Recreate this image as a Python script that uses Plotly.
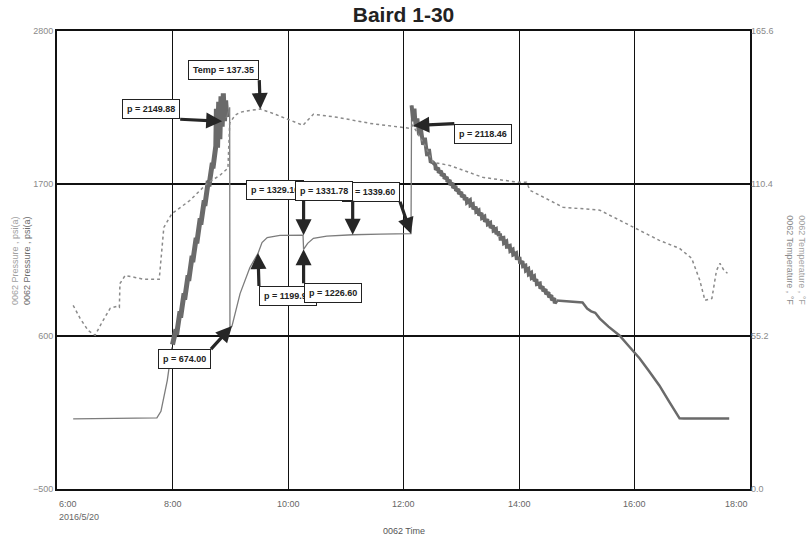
import plotly.graph_objects as go

# ---------------- data (hours of day, psi(a), degF) ----------------
pre_h = [6.28, 7.10, 7.73, 7.80, 7.91, 7.99]
pre_p = [5, 8, 12, 60, 283, 521]

pump_h = [8.00, 8.06, 8.07, 8.13, 8.14, 8.20, 8.21, 8.27, 8.28, 8.34, 8.35, 8.41, 8.42,
          8.48, 8.49, 8.55, 8.56, 8.62, 8.63, 8.69, 8.70, 8.75, 8.76, 8.78, 8.80, 8.82,
          8.84, 8.86, 8.88, 8.90, 8.92, 8.94]
pump_p = [540, 650, 610, 780, 735, 910, 865, 1040, 1000, 1180, 1135, 1310, 1270,
          1450, 1405, 1580, 1540, 1720, 1680, 1850, 1810, 1970, 2240, 1960, 2290, 2020,
          2330, 2110, 2350, 2150, 2300, 2180]

soak_h = [8.94, 8.99, 8.995, 9.03, 9.17, 9.34, 9.48, 9.55, 9.64, 9.86, 10.26, 10.27,
          10.34, 10.44, 10.67, 11.12, 11.60, 12.13, 12.14]
soak_p = [2180, 2250, 660, 674, 908, 1096, 1197, 1276, 1312, 1327, 1329, 1226,
          1270, 1306, 1322, 1332, 1336, 1340, 2264]

fall_h = [12.14, 12.17, 12.19, 12.21, 12.24, 12.27, 12.30, 12.34, 12.37, 12.41, 12.44,
          12.47, 12.51, 12.55, 12.56, 12.60, 12.61, 12.65, 12.66, 12.70, 12.71, 12.75,
          12.76, 12.80, 12.81, 12.85, 12.86, 12.90, 12.91, 12.95, 12.96, 13.00, 13.01,
          13.05, 13.06, 13.09, 13.10, 13.15, 13.16, 13.20, 13.21, 13.25, 13.26, 13.30,
          13.31, 13.35, 13.36, 13.40, 13.41, 13.45, 13.46, 13.50, 13.51, 13.55, 13.56,
          13.60, 13.61, 13.64, 13.65, 13.67, 13.68, 13.73, 13.74, 13.78, 13.79, 13.84,
          13.85, 13.89, 13.90, 13.95, 13.96, 14.01, 14.02, 14.06, 14.07, 14.11, 14.12,
          14.16, 14.17, 14.21, 14.22, 14.26, 14.27, 14.30, 14.31, 14.36, 14.37, 14.41,
          14.42, 14.46, 14.47, 14.51, 14.52, 14.56, 14.57, 14.61, 14.62, 14.65]
fall_p = [2264, 2150, 2240, 2110, 2170, 2050, 2100, 1980, 2030, 1900, 1950,
          1860, 1853, 1836, 1800, 1814, 1778, 1793, 1757, 1771, 1735, 1749,
          1713, 1727, 1691, 1705, 1669, 1684, 1648, 1662, 1626, 1640, 1604,
          1618, 1582, 1601, 1565, 1580, 1544, 1552, 1516, 1534, 1498, 1507,
          1471, 1489, 1453, 1462, 1426, 1444, 1408, 1417, 1381, 1399, 1363,
          1372, 1336, 1358, 1322, 1341, 1305, 1309, 1273, 1283, 1247, 1252,
          1216, 1225, 1189, 1199, 1163, 1161, 1125, 1141, 1105, 1110, 1074,
          1084, 1048, 1058, 1022, 1032, 996, 1012, 976, 981, 945, 960,
          924, 939, 903, 918, 882, 896, 860, 875, 839, 858]

tail_h = [14.65, 14.80, 14.95, 15.10, 15.18, 15.25, 15.32, 15.40, 15.55, 15.74, 15.90,
          16.09, 16.25, 16.43, 16.60, 16.78, 16.85, 17.64]
tail_p = [858, 852, 848, 844, 800, 780, 770, 728, 670, 606, 530,
          440, 350, 246, 130, 9, 8, 8]

temp_h = [6.28, 6.40, 6.54, 6.66, 6.78, 6.92, 7.04, 7.08, 7.09, 7.18, 7.35, 7.51, 7.77,
          7.82, 7.85, 7.99, 8.13, 8.30, 8.60, 8.82, 8.96, 8.99, 9.08, 9.17, 9.34, 9.52,
          9.69, 9.95, 10.26, 10.34, 10.44, 10.85, 11.42, 12.11, 12.16, 12.37, 12.51,
          12.80, 13.37, 13.98, 14.13, 14.19, 14.53, 14.76, 15.40, 15.74, 16.09, 16.43,
          16.78, 16.99, 17.13, 17.22, 17.34, 17.42, 17.48, 17.55, 17.61]
temp_f = [66.4, 61.7, 57.3, 55.6, 60.3, 65.3, 66.1, 65.7, 74.3, 77.2, 76.5, 75.8, 75.8,
          86.3, 94.6, 99.6, 101.8, 104.3, 110.5, 113.4, 116.0, 132.2, 135.1, 136.2, 136.9, 137.35,
          136.2, 134.0, 131.5, 133.3, 135.5, 134.4, 132.2, 130.4, 131.5, 124.3, 118.1,
          117.0, 112.7, 110.9, 110.9, 108.0, 104.4, 101.9, 100.8, 97.1, 93.5, 89.9,
          87.0, 83.4, 75.5, 68.2, 68.9, 79.0, 81.6, 79.0, 78.0]

# readings (label, hour, value, axis)
note_text = ["p = 2149.88", "Temp = 137.35", "p = 2118.46", "p = 1329.10", "p = 1339.60",
             "p = 1331.78", "p = 1199.90", "p = 1226.60", "p = 674.00"]
note_h = [8.86, 9.52, 12.17, 10.27, 12.13, 11.12, 9.48, 10.27, 9.03]
note_val = [2149.88, 137.35, 2118.46, 1329.10, 1339.60, 1331.78, 1199.90, 1226.60, 674.00]
note_axis = ["y", "y2", "y", "y", "y", "y", "y", "y", "y"]

x_tick_hours = [6, 8, 10, 12, 14, 16, 18]
x_tick_text = ["6:00", "8:00", "10:00", "12:00", "14:00", "16:00", "18:00"]
p_ticks = [-500, 600, 1700, 2800]
t_ticks = [0.0, 55.2, 110.4, 165.6]
t_tick_text = ["0.0", "55.2", "110.4", "165.6"]

# ---------------- styles ----------------
FONT = "Liberation Sans Narrow, Arial Narrow, Liberation Sans, Arial, sans-serif"
thin = dict(color="#7c7c7c", width=1.3)
# (ax, ay, xanchor, yanchor) for each reading box
note_style = [(-42, -2, "right", "bottom"), (-1, -29, "right", "bottom"),
              (41, -2, "left", "top"), (0, -35, "right", "bottom"),
              (-11, -32, "right", "bottom"), (0, -34, "right", "bottom"),
              (1, 33, "left", "top"), (0, 34, "left", "top"),
              (-21, 23, "right", "top")]

fig = go.Figure()
fig.add_trace(go.Scatter(x=pre_h, y=pre_p, mode="lines", line=thin))
fig.add_trace(go.Scatter(x=pump_h, y=pump_p, mode="lines", line=dict(color="#6a6a6a", width=5)))
fig.add_trace(go.Scatter(x=soak_h, y=soak_p, mode="lines", line=thin))
fig.add_trace(go.Scatter(x=fall_h, y=fall_p, mode="lines", line=dict(color="#6a6a6a", width=4)))
fig.add_trace(go.Scatter(x=tail_h, y=tail_p, mode="lines", line=dict(color="#6a6a6a", width=2.5)))
fig.add_trace(go.Scatter(x=temp_h, y=temp_f, mode="lines", yaxis="y2",
                         line=dict(color="#8a8a8a", width=1.5, dash="dot")))

ann = []
for txt, h, v, ax_name, (ax, ay, xa, ya) in zip(note_text, note_h, note_val, note_axis, note_style):
    ann.append(dict(x=h, y=v, xref="x", yref=ax_name, text=txt, showarrow=True,
                    ax=ax, ay=ay, xanchor=xa, yanchor=ya,
                    arrowhead=2, arrowsize=1, arrowwidth=3.2, arrowcolor="#262626",
                    bgcolor="white", bordercolor="#222", borderwidth=1, borderpad=4,
                    font=dict(family=FONT, size=9, color="#222", weight="bold")))

for h, t in zip(x_tick_hours, x_tick_text):
    xa = "left" if h == x_tick_hours[0] else ("right" if h == x_tick_hours[-1] else "center")
    ann.append(dict(x=h, y=0, xref="x", yref="paper", text=t, showarrow=False,
                    xanchor=xa, yanchor="top", yshift=-8,
                    font=dict(family=FONT, size=9, color="#666")))
ann.append(dict(x=6, y=0, xref="x", yref="paper", text="2016/5/20", showarrow=False,
                xanchor="left", yanchor="top", yshift=-21, font=dict(family=FONT, size=9, color="#666")))
ann.append(dict(x=0.5, y=0, xref="paper", yref="paper", text="0062 Time", showarrow=False,
                xanchor="center", yanchor="top", yshift=-35, font=dict(family=FONT, size=9, color="#555")))
ann.append(dict(x=-0.052, y=0.5, xref="paper", yref="paper", textangle=-90, showarrow=False,
                text="<span style='color:#a0a0a0'>0062 Pressure , psi(a)</span><br>"
                     "<span style='color:#6a6a6a'>0062 Pressure , psi(a)</span>",
                xanchor="center", yanchor="middle", font=dict(family=FONT, size=9)))
ann.append(dict(x=1.066, y=0.5, xref="paper", yref="paper", textangle=90, showarrow=False,
                text="<span style='color:#a0a0a0'>0062 Temperature , °F</span><br>"
                     "<span style='color:#8a8a8a'>0062 Temperature , °F</span>",
                xanchor="center", yanchor="middle", font=dict(family=FONT, size=9)))

fig.update_layout(
    width=809, height=539,
    margin=dict(l=57, r=59, t=31, b=50),
    paper_bgcolor="white", plot_bgcolor="white",
    showlegend=False,
    title=dict(text="<b>Baird 1-30</b>", x=0.5, xref="paper", y=1 - 15 / 539, yref="container",
               xanchor="center", yanchor="middle", font=dict(family=FONT, size=21, color="#222")),
    xaxis=dict(range=[6, 18], tickvals=x_tick_hours, showticklabels=False,
               showgrid=True, gridcolor="#111", gridwidth=1, zeroline=False,
               showline=True, linecolor="#111", linewidth=2, mirror=True),
    yaxis=dict(range=[-500, 2800], tickvals=p_ticks, showgrid=True, gridcolor="#111", gridwidth=2,
               zeroline=False, showline=True, linecolor="#111", linewidth=2, mirror=True,
               tickfont=dict(family=FONT, size=9, color="#8a8a8a")),
    yaxis2=dict(range=[0, 165.6], tickvals=t_ticks, ticktext=t_tick_text, overlaying="y", side="right",
                showgrid=False, zeroline=False, showline=False,
                tickfont=dict(family=FONT, size=9, color="#8a8a8a")),
    annotations=ann,
)

fig.write_html("out.html", config={"displayModeBar": False},
               post_script="document.body.style.margin='0';document.body.style.overflow='hidden';")
